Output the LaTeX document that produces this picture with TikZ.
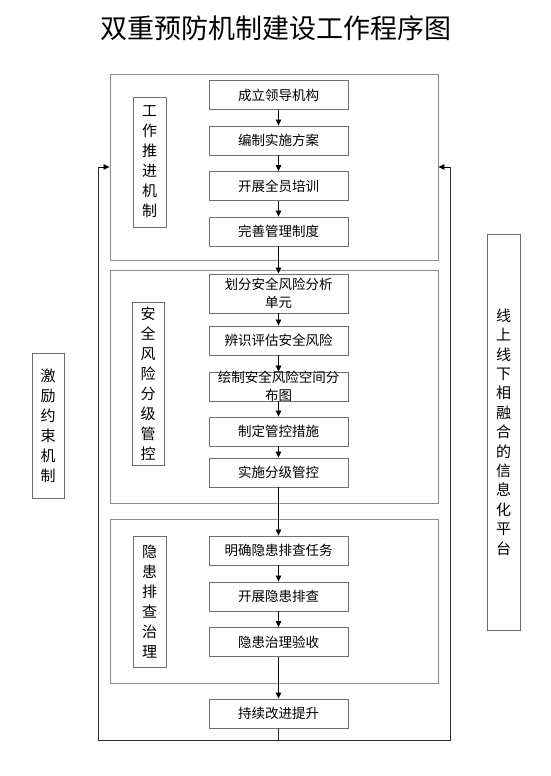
\documentclass[tikz,border=0pt]{standalone}
\usepackage{fontspec}
\setmainfont{Noto Sans CJK SC}
\usetikzlibrary{arrows.meta}
\definecolor{framegray}{HTML}{8C8C8C}
\definecolor{boxgray}{HTML}{6E6E6E}
\definecolor{linedark}{HTML}{2A2A2A}
\tikzset{
  stepbox/.style={draw=boxgray, line width=0.9pt, minimum width=139pt, minimum height=29pt, inner sep=0pt, align=center, font=\fontsize{13.5}{18}\selectfont},
  framebox/.style={draw=framegray, line width=0.9pt, inner sep=0pt},
  sidebox/.style={draw=boxgray, line width=0.9pt, inner sep=0pt, align=center, font=\fontsize{15}{20}\selectfont},
  platbox/.style={draw=boxgray, line width=0.9pt, inner sep=0pt, align=center, font=\fontsize{15}{19.4}\selectfont},
  flow/.style={draw=black, line width=0.8pt, -{Triangle[length=6pt,width=5.5pt]}},
  loopline/.style={draw=linedark, line width=1pt},
}
\begin{document}
\begin{tikzpicture}[x=1pt,y=-1pt]
\useasboundingbox (0,0) rectangle (551,776);
% title
\node[font=\fontsize{27}{30}\selectfont, inner sep=0pt] (title) at (276,28) {双重预防机制建设工作程序图};
% frames
\node[framebox, minimum width=328pt, minimum height=186pt] (f1) at (274,167) {};
\node[framebox, minimum width=328pt, minimum height=233pt] (f2) at (274,386.5) {};
\node[framebox, minimum width=328pt, minimum height=164pt] (f3) at (274,601) {};
% side labels
\node[sidebox, minimum width=33pt, minimum height=130pt] (l1) at (149.5,162) {工\\作\\推\\进\\机\\制};
\node[sidebox, minimum width=32pt, minimum height=163pt] (l2) at (148,383.5) {安\\全\\风\\险\\分\\级\\管\\控};
\node[sidebox, minimum width=33pt, minimum height=131pt] (l3) at (149.5,601.5) {隐\\患\\排\\查\\治\\理};
\node[sidebox, minimum width=32pt, minimum height=145pt] (l4) at (48,425.5) {激\\励\\约\\束\\机\\制};
\node[platbox, minimum width=33pt, minimum height=396pt] (l5) at (503.5,432) {线\\上\\线\\下\\相\\融\\合\\的\\信\\息\\化\\平\\台};
% steps
\node[stepbox] (s1) at (278.5,95) {成立领导机构};
\node[stepbox] (s2) at (278.5,140.5) {编制实施方案};
\node[stepbox] (s3) at (278.5,186) {开展全员培训};
\node[stepbox] (s4) at (278.5,231.5) {完善管理制度};
\node[stepbox, minimum height=39pt] (s5) at (278.5,293.5) {划分安全风险分析\\单元};
\node[stepbox] (s6) at (278.5,340.5) {辨识评估安全风险};
\node[stepbox] (s7) at (278.5,386.5) {};
\node[align=center, inner sep=0pt, font=\fontsize{13.5}{18}\selectfont] (s7t) at (278.5,386.5) {绘制安全风险空间分\\布图};
\node[stepbox] (s8) at (278.5,431.5) {制定管控措施};
\node[stepbox] (s9) at (278.5,472.5) {实施分级管控};
\node[stepbox] (s10) at (278.5,550.5) {明确隐患排查任务};
\node[stepbox] (s11) at (278.5,596.5) {开展隐患排查};
\node[stepbox] (s12) at (278.5,642) {隐患治理验收};
\node[stepbox] (s13) at (278.5,713.5) {持续改进提升};
% flow arrows
\foreach \a/\b in {s1/s2,s2/s3,s3/s4,s4/s5,s5/s6,s6/s7,s7/s8,s8/s9,s9/s10,s10/s11,s11/s12,s12/s13}
  \draw[flow] (\a.south) -- (\b.north);
% feedback loop
\coordinate (bm) at (278.5,740);
\coordinate (bl) at (98,740);
\coordinate (br) at (450,740);
\coordinate (tl) at (98,167);
\coordinate (tr) at (450,167);
\draw[loopline] (s13.south) -- (bm);
\draw[loopline] (bm) -- (bl) -- (tl);
\draw[loopline] (bm) -- (br) -- (tr);
\draw[flow] (tl) -- (f1.west |- tl);
\draw[flow] (tr) -- (f1.east |- tr);
\end{tikzpicture}
\end{document}
